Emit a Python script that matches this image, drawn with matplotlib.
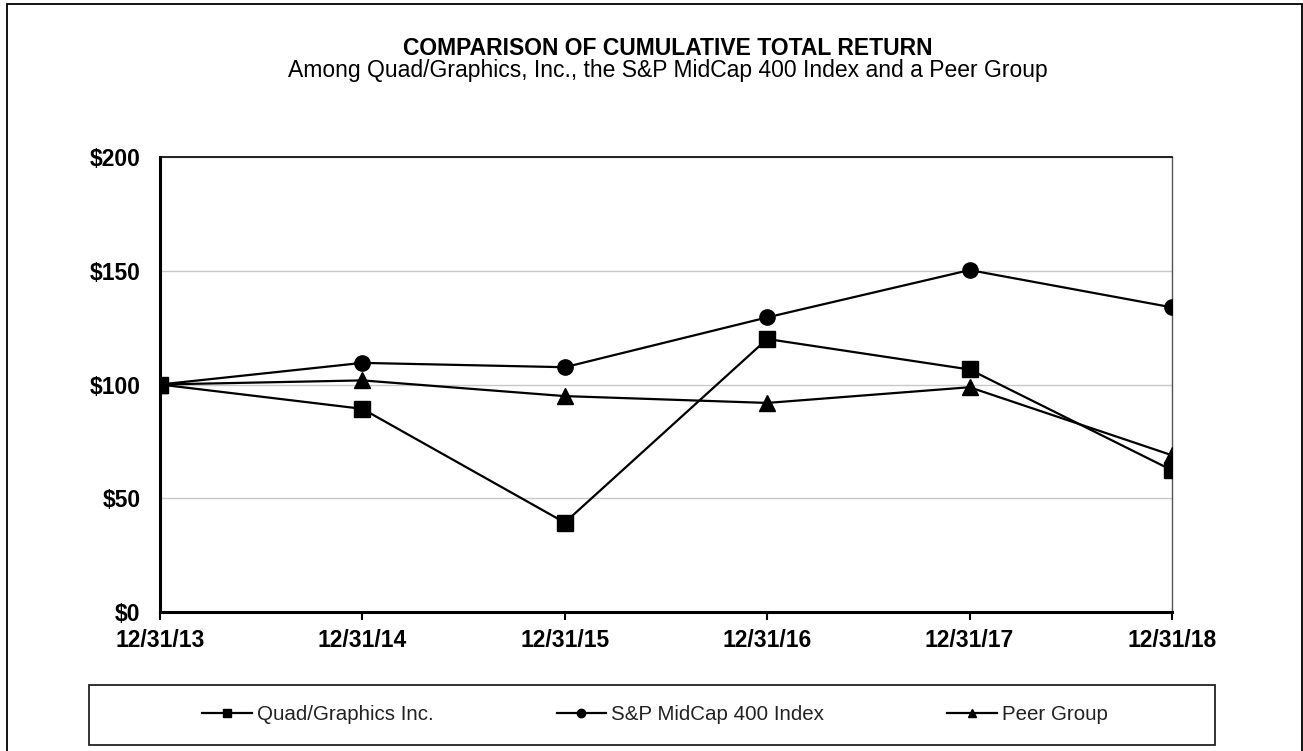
import matplotlib
matplotlib.use('Agg')
import matplotlib.pyplot as plt
from matplotlib.patches import Rectangle
from matplotlib.lines import Line2D

plt.rcParams['font.family'] = ['Liberation Sans', 'DejaVu Sans']

# data
dates = ['12/31/13', '12/31/14', '12/31/15', '12/31/16', '12/31/17', '12/31/18']
quad = [100, 89.3, 39.3, 120.0, 106.6, 62.3]
sp400 = [100, 109.5, 107.6, 129.5, 150.3, 133.9]
peer = [100, 101.8, 94.9, 91.9, 98.8, 68.9]
yticks = [0, 50, 100, 150, 200]
ylabels = ['$0', '$50', '$100', '$150', '$200']

W, H = 1303, 751
fig = plt.figure(figsize=(W / 100, H / 100), dpi=100)
ax = fig.add_axes([160 / W, 1 - 612 / H, 1012 / W, 455 / H])

x = list(range(len(dates)))
ax.plot(x, quad, color='black', lw=1.6, marker='s', ms=11, zorder=3)
ax.plot(x, sp400, color='black', lw=1.6, marker='o', ms=11, zorder=3)
ax.plot(x, peer, color='black', lw=1.6, marker='^', ms=11, zorder=3)

ax.set_xlim(0, 5)
ax.set_ylim(0, 200)
ax.set_xticks(x)
ax.set_xticklabels(dates, fontsize=16.5, fontweight='bold')
ax.set_yticks(yticks)
ax.set_yticklabels(ylabels, fontsize=16.5, fontweight='bold')
ax.tick_params(axis='x', direction='out', length=6, width=1.5, pad=6)
ax.tick_params(axis='y', length=0, pad=14)
ax.grid(axis='y', color='#c8c8c8', lw=1)
ax.set_axisbelow(True)
for s in ['left', 'bottom']:
    ax.spines[s].set_linewidth(2.2)
ax.spines['top'].set_linewidth(1.2)
ax.spines['right'].set_linewidth(1)
ax.spines['right'].set_color('#555555')

# titles
fig.text(668 / W, 1 - 55 / H, 'COMPARISON OF CUMULATIVE TOTAL RETURN',
         ha='center', va='baseline', fontsize=16.5, fontweight='bold')
fig.text(668 / W, 1 - 77 / H,
         'Among Quad/Graphics, Inc., the S&P MidCap 400 Index and a Peer Group',
         ha='center', va='baseline', fontsize=16.5)

# outer frame and legend box
fig.patches.append(Rectangle((7 / W, -0.05), 1295 / W, 1.05 - 4.5 / H,
                             transform=fig.transFigure, fill=False,
                             edgecolor='black', lw=1.3))
fig.patches.append(Rectangle((89 / W, 1 - 745 / H), 1126 / W, 60 / H,
                             transform=fig.transFigure, fill=False,
                             edgecolor='#222222', lw=1.3))

handles = [
    Line2D([], [], color='black', lw=1.6, marker='s', ms=6),
    Line2D([], [], color='black', lw=1.6, marker='o', ms=6),
    Line2D([], [], color='black', lw=1.6, marker='^', ms=6),
]
names = ['Quad/Graphics Inc.', 'S&P MidCap 400 Index', 'Peer Group']
leg = fig.legend(handles, names, loc='center', bbox_to_anchor=(655 / W, 1 - 715 / H),
                 ncol=3, frameon=False, fontsize=14.8, handlelength=2.4,
                 handletextpad=0.25, columnspacing=6.0)
for t in leg.get_texts():
    t.set_color('#222222')

fig.savefig('out.png', dpi=100)
